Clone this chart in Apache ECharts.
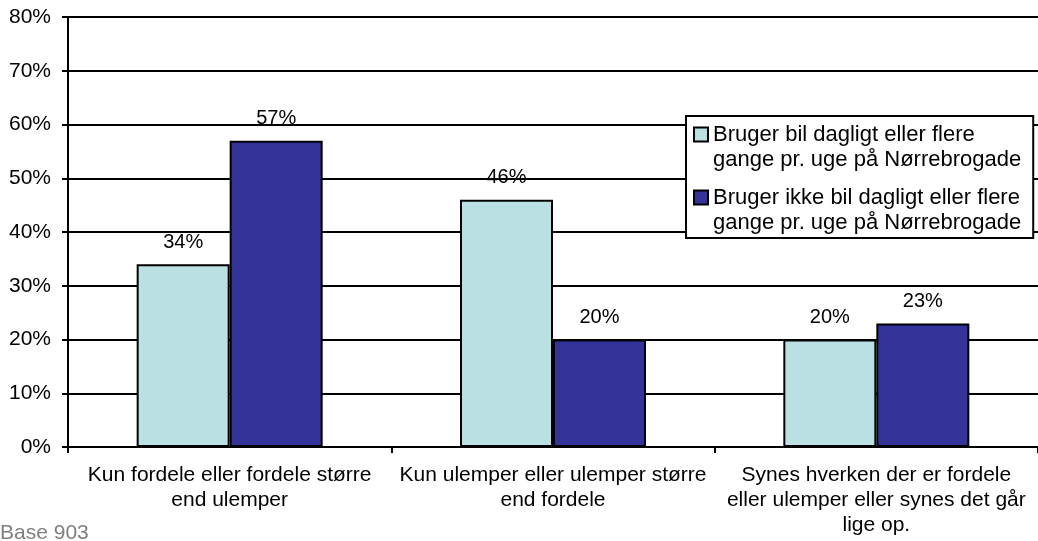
<!DOCTYPE html>
<html>
<head>
<meta charset="utf-8">
<script src="https://cdn.jsdelivr.net/npm/echarts@6/dist/echarts.min.js"></script>
<style>
  html, body { margin: 0; padding: 0; background: #fff; }
  #chart { width: 1038px; height: 541px; }
</style>
</head>
<body>
<div id="chart"></div>
<script>
// kategorier og værdier (procent)
const categories = [
  'Kun fordele eller fordele større\nend ulemper',
  'Kun ulemper eller ulemper større\nend fordele',
  'Synes hverken der er fordele\neller ulemper eller synes det går\nlige op.'
];
const seriesNames = [
  'Bruger bil dagligt eller flere gange pr. uge på Nørrebrogade',
  'Bruger ikke bil dagligt eller flere gange pr. uge på Nørrebrogade'
];
const legendLabels = [
  'Bruger bil dagligt eller flere\ngange pr. uge på Nørrebrogade',
  'Bruger ikke bil dagligt eller flere\ngange pr. uge på Nørrebrogade'
];
const bilDagligt = [34, 46, 20];
const ikkeBilDagligt = [57, 20, 23];
const yTicks = [0, 10, 20, 30, 40, 50, 60, 70, 80];

const font = 'Liberation Sans, Arial, sans-serif';
const chart = echarts.init(document.getElementById('chart'));

const barLabel = {
  show: true,
  position: 'top',
  distance: 12,
  formatter: '{c}%',
  color: '#000',
  fontFamily: font,
  fontSize: 20
};

chart.setOption({
  animation: false,
  textStyle: { fontFamily: font },
  grid: { left: 68, right: 0, top: 17, bottom: 94 },
  graphic: [{
    type: 'text',
    left: 0,
    top: 523,
    style: { text: 'Base 903', fill: '#808080', font: '21px ' + font }
  }],
  legend: {
    orient: 'vertical',
    left: 686,
    top: 116,
    padding: [6, 12, 3, 7],
    itemGap: 13,
    itemWidth: 14,
    itemHeight: 39,
    // firkant ud for første tekstlinje
    icon: 'path://M0,0H14V14H0Z M0,39',
    backgroundColor: '#fff',
    borderColor: '#000',
    borderWidth: 2,
    data: seriesNames,
    formatter: name => legendLabels[seriesNames.indexOf(name)],
    textStyle: { fontSize: 22, lineHeight: 25, color: '#000' }
  },
  xAxis: {
    type: 'category',
    data: categories,
    axisLine: { lineStyle: { color: '#000', width: 2 } },
    axisTick: { show: true, length: 6, lineStyle: { color: '#000', width: 2 } },
    axisLabel: { color: '#000', fontSize: 21, lineHeight: 25, margin: 16, interval: 0 }
  },
  yAxis: {
    type: 'value',
    min: yTicks[0],
    max: yTicks[yTicks.length - 1],
    interval: 10,
    axisLine: { show: true, lineStyle: { color: '#000', width: 2 } },
    axisTick: { show: true, length: 6, lineStyle: { color: '#000', width: 2 } },
    splitLine: { lineStyle: { color: '#000', width: 2 } },
    axisLabel: { color: '#000', fontSize: 21, margin: 17, formatter: '{value}%' }
  },
  series: [
    {
      name: seriesNames[0],
      type: 'bar',
      data: bilDagligt,
      barWidth: 93,
      barGap: '0%',
      itemStyle: { color: '#BBE0E3', borderColor: '#000', borderWidth: 2 },
      label: barLabel
    },
    {
      name: seriesNames[1],
      type: 'bar',
      data: ikkeBilDagligt,
      barWidth: 93,
      barGap: '0%',
      itemStyle: { color: '#333399', borderColor: '#000', borderWidth: 2 },
      label: barLabel
    }
  ]
});
</script>
</body>
</html>
